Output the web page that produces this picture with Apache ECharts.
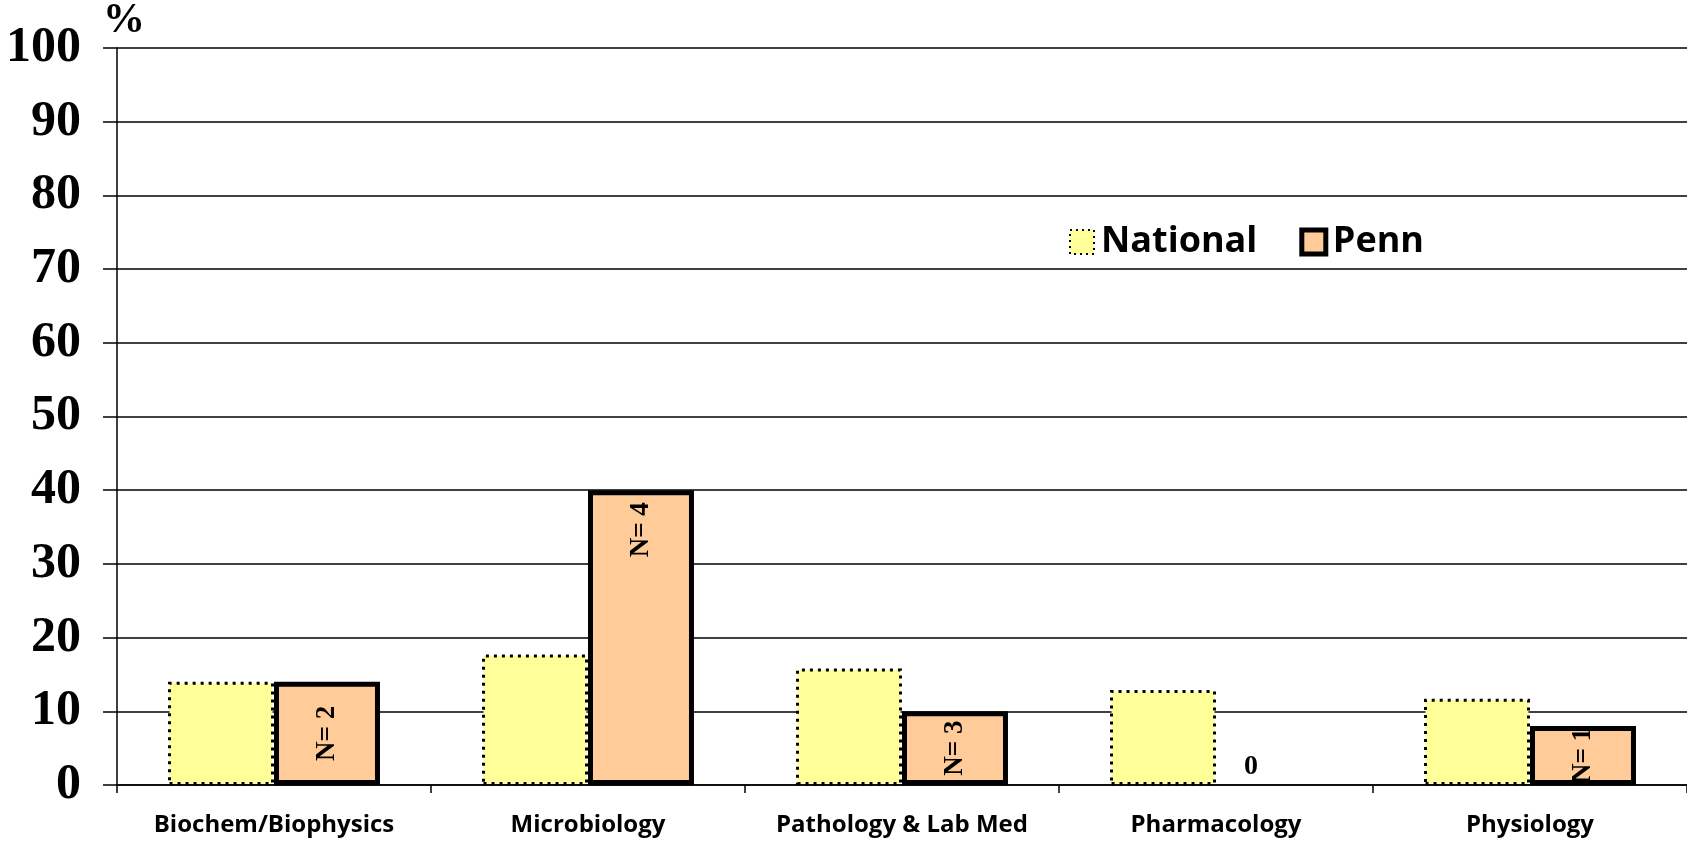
<!DOCTYPE html>
<html>
<head>
<meta charset="utf-8">
<script src="https://cdn.jsdelivr.net/npm/echarts@6/dist/echarts.min.js"></script>
<style>html,body{margin:0;padding:0;background:#fff}#c{width:1687px;height:843px}</style>
</head>
<body>
<div id="c"></div>
<script>
const categories = ['Biochem/Biophysics', 'Microbiology', 'Pathology & Lab Med', 'Pharmacology', 'Physiology'];
const nationalValues = [14, 17.7, 15.8, 12.9, 11.7];
const pennValues = [14, 40, 10, 0, 8];
const pennN = [2, 4, 3, 0, 1];
const seriesNames = ['National', 'Penn'];
const yMin = 0, yMax = 100, yInterval = 10;
const yAxisName = '%';

const serif = '"Liberation Serif", "Times New Roman", serif';
const sans = '"Open Sans", "DejaVu Sans", sans-serif';

const pennData = pennValues.map((v, i) => {
  if (v === 0) {
    return { value: v, itemStyle: { borderWidth: 0 },
      label: { position: 'top', rotate: 0, align: 'center', verticalAlign: 'bottom', distance: 4, offset: [-18, 0], fontSize: 28, formatter: '0' } };
  }
  if (v < 20) {
    return { value: v, label: { position: 'inside', align: 'center', verticalAlign: 'middle' } };
  }
  return { value: v };
});

const chart = echarts.init(document.getElementById('c'), null, { renderer: 'canvas' });
chart.setOption({
  animation: false,
  backgroundColor: '#ffffff',
  grid: { left: 117, right: 0, top: 48, bottom: 58, containLabel: false },
  legend: {
    data: [
      { name: seriesNames[0], itemStyle: { color: '#FFFF99', borderColor: '#000', borderWidth: 2, borderType: [2, 4] } },
      { name: seriesNames[1], itemStyle: { color: '#FFCC99', borderColor: '#000', borderWidth: 5 } }
    ],
    icon: 'rect',
    left: 1064, top: 219,
    itemWidth: 24, itemHeight: 24, itemGap: 42,
    textStyle: { fontFamily: sans, fontWeight: 'bold', fontSize: 36, color: '#000', padding: [0, 0, 0, 2] }
  },
  xAxis: {
    type: 'category',
    data: categories,
    axisLine: { show: true, lineStyle: { color: '#000', width: 1.5 } },
    axisTick: { show: true, length: 8, inside: false, lineStyle: { color: '#000', width: 1.5 } },
    axisLabel: { margin: 28, fontFamily: sans, fontWeight: 'bold', fontSize: 24, color: '#000', interval: 0 }
  },
  yAxis: {
    type: 'value',
    min: yMin, max: yMax, interval: yInterval,
    name: yAxisName,
    nameLocation: 'end',
    nameGap: 6,
    nameTextStyle: { fontFamily: serif, fontWeight: 'bold', fontSize: 42, color: '#000', align: 'left', padding: [0, 0, 0, -14] },
    axisLine: { show: true, lineStyle: { color: '#000', width: 1.5 } },
    axisTick: { show: true, length: 14, lineStyle: { color: '#000', width: 1.5 } },
    axisLabel: { margin: 36, fontFamily: serif, fontWeight: 'bold', fontSize: 50, color: '#000' },
    splitLine: { show: true, lineStyle: { color: '#000', width: 1.5 } }
  },
  series: [
    {
      name: seriesNames[0],
      type: 'bar',
      data: nationalValues,
      barGap: '0%',
      barCategoryGap: '32.5%',
      itemStyle: { color: '#FFFF99', borderColor: '#000', borderWidth: 3, borderType: [3, 5] }
    },
    {
      name: seriesNames[1],
      type: 'bar',
      data: pennData,
      barGap: '0%',
      barCategoryGap: '32.5%',
      itemStyle: { color: '#FFCC99', borderColor: '#000', borderWidth: 5 },
      label: {
        show: true,
        position: 'insideTop',
        distance: 12,
        rotate: 90,
        align: 'right',
        verticalAlign: 'middle',
        fontFamily: serif, fontWeight: 'bold', fontSize: 27, color: '#000',
        formatter: p => 'N= ' + pennN[p.dataIndex]
      }
    }
  ]
});
</script>
</body>
</html>
